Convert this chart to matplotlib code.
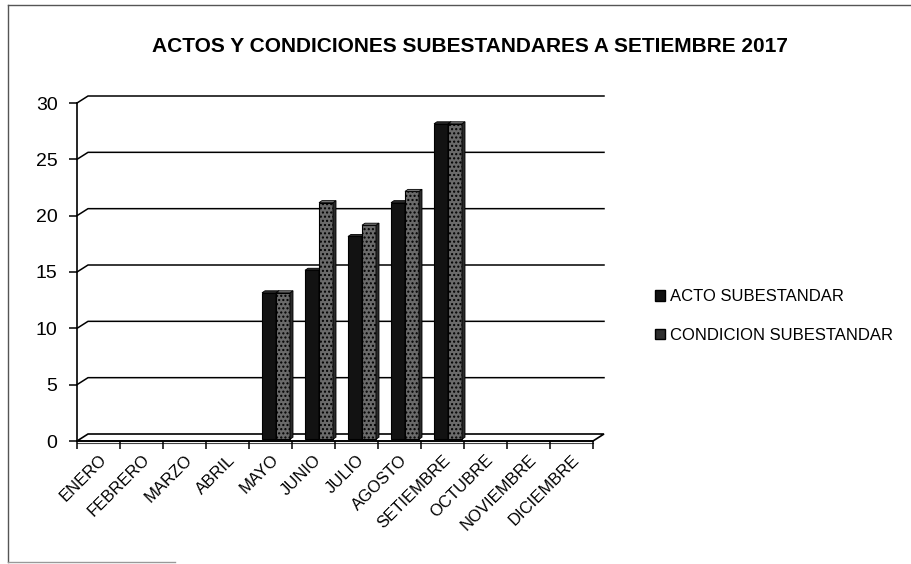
import matplotlib
matplotlib.use('Agg')
from matplotlib import pyplot as plt
from matplotlib.patches import Polygon, Rectangle, Patch
from matplotlib.lines import Line2D

plt.rcParams['font.family'] = ['Liberation Sans', 'DejaVu Sans']
plt.rcParams['hatch.color'] = '#2a2a2a'

meses = ['ENERO', 'FEBRERO', 'MARZO', 'ABRIL', 'MAYO', 'JUNIO', 'JULIO',
         'AGOSTO', 'SETIEMBRE', 'OCTUBRE', 'NOVIEMBRE', 'DICIEMBRE']
acto = [0, 0, 0, 0, 13, 15, 18, 21, 28, 0, 0, 0]
condicion = [0, 0, 0, 0, 13, 21, 19, 22, 28, 0, 0, 0]
series = ['ACTO SUBESTANDAR', 'CONDICION SUBESTANDAR']

fig = plt.figure(figsize=(9.11, 5.64), dpi=100)
W, H = 911, 564
# plot area: front floor edge 77..593 px, value axis 441..103 px
ax = fig.add_axes([77 / W, 1 - 441 / H, 516 / W, 338 / H])
ax.set_xlim(0, 12)
ax.set_ylim(0, 30)

px_x = 516 / 12
px_y = 338 / 30
DX = 11 / px_x   # depth of the floor / back wall
DY = 7 / px_y
bdx = 3 / px_x   # depth of each column
bdy = 2 / px_y

for s in ['top', 'right']:
    ax.spines[s].set_visible(False)
ax.spines['left'].set_linewidth(1.2)
ax.spines['bottom'].set_linewidth(1.2)
ax.patch.set_alpha(0)

# floor
ax.add_patch(Polygon([(0, 0), (12, 0), (12 + DX, DY), (DX, DY)], closed=True,
                     facecolor='white', edgecolor='black', lw=1.2, clip_on=False, zorder=1))
ax.add_line(Line2D([0, 12], [-0.15, -0.15], color='#444444', lw=0.8, clip_on=False, zorder=1))

# gridlines on the back wall
for v in range(5, 31, 5):
    ax.add_line(Line2D([0, DX, 12 + DX], [v, v + DY, v + DY], color='black',
                       lw=1.1, clip_on=False, zorder=0.5))

# columns with a small 3D look
bw = 14 / px_x
base = DY * 0.25
colors = [('#121212', '#000000', '#2a2a2a'), ('#6a6a6a', '#2b2b2b', '#7a7a7a')]
for k, vals in enumerate([acto, condicion]):
    front, side, top = colors[k]
    for i, v in enumerate(vals):
        if v <= 0:
            continue
        c = i + 0.5 + DX / 2
        xl = c - bw if k == 0 else c
        yt = base + v
        ax.add_patch(Rectangle((xl, base), bw, v, facecolor=front, edgecolor='black',
                               lw=0.8, hatch='....' if k == 1 else None,
                               clip_on=False, zorder=3 + k))
        ax.add_patch(Polygon([(xl + bw, base), (xl + bw + bdx, base + bdy),
                              (xl + bw + bdx, yt + bdy), (xl + bw, yt)], closed=True,
                             facecolor=side, edgecolor='black', lw=0.6, clip_on=False, zorder=3 + k))
        ax.add_patch(Polygon([(xl, yt), (xl + bw, yt), (xl + bw + bdx, yt + bdy),
                              (xl + bdx, yt + bdy)], closed=True,
                             facecolor=top, edgecolor='black', lw=0.6, clip_on=False, zorder=3 + k))

ax.set_yticks(range(0, 31, 5))
ax.tick_params(axis='y', direction='out', length=6, width=1.1, pad=8, labelsize=14)
ax.set_xticks([i + 0.5 for i in range(12)])
ax.set_xticklabels(meses, rotation=45, ha='right', va='top', rotation_mode='anchor', fontsize=12)
ax.tick_params(axis='x', length=0, pad=8)
ax.set_xticks(range(13), minor=True)
ax.tick_params(axis='x', which='minor', direction='out', length=6, width=1.1)

fig.text(470 / W, 1 - 47 / H, 'ACTOS Y CONDICIONES SUBESTANDARES A SETIEMBRE 2017',
         ha='center', va='center', fontsize=15, fontweight='bold')

handles = [Patch(facecolor='#121212', edgecolor='black'),
           Patch(facecolor='#2e2e2e', edgecolor='black')]
fig.legend(handles, series, loc='center left', bbox_to_anchor=(648 / W, 1 - 316 / H),
           frameon=False, fontsize=12, handlelength=0.6, handleheight=0.6,
           handletextpad=0.3, labelspacing=1.4, borderaxespad=0)

# outer frame
fig.add_artist(Line2D([8 / W, 8 / W], [1 - 5 / H, 1 - 562 / H], color='#555555', lw=1))
fig.add_artist(Line2D([8 / W, 1], [1 - 5 / H, 1 - 5 / H], color='#555555', lw=1))
fig.add_artist(Line2D([8 / W, 175 / W], [1 - 562 / H, 1 - 562 / H], color='#999999', lw=1))

plt.savefig('out.png', dpi=100)
